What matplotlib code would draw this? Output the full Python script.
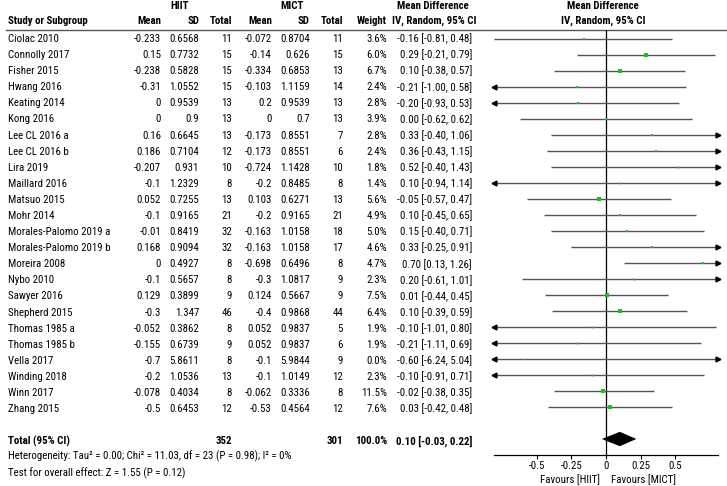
import matplotlib
matplotlib.use('Agg')
import matplotlib.pyplot as plt
import numpy as np

plt.rcParams['font.family'] = ['Roboto Condensed', 'Liberation Sans', 'DejaVu Sans']
plt.rcParams['axes.unicode_minus'] = False

studies = ['Ciolac 2010', 'Connolly 2017', 'Fisher 2015', 'Hwang 2016', 'Keating 2014',
           'Kong 2016', 'Lee CL 2016 a', 'Lee CL 2016 b', 'Lira 2019', 'Maillard 2016',
           'Matsuo 2015', 'Mohr 2014', 'Morales-Palomo 2019 a', 'Morales-Palomo 2019 b',
           'Moreira 2008', 'Nybo 2010', 'Sawyer 2016', 'Shepherd 2015', 'Thomas 1985 a',
           'Thomas 1985 b', 'Vella 2017', 'Winding 2018', 'Winn 2017', 'Zhang 2015']
hiit_mean = [-0.233, 0.15, -0.238, -0.31, 0, 0, 0.16, 0.186, -0.207, -0.1, 0.052, -0.1,
             -0.01, 0.168, 0, -0.1, 0.129, -0.3, -0.052, -0.155, -0.7, -0.2, -0.078, -0.5]
hiit_sd = [0.6568, 0.7732, 0.5828, 1.0552, 0.9539, 0.9, 0.6645, 0.7104, 0.931, 1.2329,
           0.7255, 0.9165, 0.8419, 0.9094, 0.4927, 0.5657, 0.3899, 1.347, 0.3862, 0.6739,
           5.8611, 1.0536, 0.4034, 0.6453]
hiit_n = [11, 15, 15, 15, 13, 13, 13, 12, 10, 8, 13, 21, 32, 32, 8, 8, 9, 46, 8, 9, 8, 13, 8, 12]
mict_mean = [-0.072, -0.14, -0.334, -0.103, 0.2, 0, -0.173, -0.173, -0.724, -0.2, 0.103, -0.2,
             -0.163, -0.163, -0.698, -0.3, 0.124, -0.4, 0.052, 0.052, -0.1, -0.1, -0.062, -0.53]
mict_sd = [0.8704, 0.626, 0.6853, 1.1159, 0.9539, 0.7, 0.8551, 0.8551, 1.1428, 0.8485,
           0.6271, 0.9165, 1.0158, 1.0158, 0.6496, 1.0817, 0.5667, 0.9868, 0.9837, 0.9837,
           5.9844, 1.0149, 0.3336, 0.4564]
mict_n = [11, 15, 13, 14, 13, 13, 7, 6, 10, 8, 13, 21, 18, 17, 8, 9, 9, 44, 5, 6, 9, 12, 8, 12]
weight = [3.6, 6.0, 6.7, 2.4, 2.8, 3.9, 2.8, 2.4, 1.8, 1.4, 5.6, 4.9, 5.0, 4.6, 4.7, 2.3,
          7.5, 6.4, 1.9, 1.9, 0.0, 2.3, 11.5, 7.6]
md = [-0.16, 0.29, 0.10, -0.21, -0.20, 0.00, 0.33, 0.36, 0.52, 0.10, -0.05, 0.10, 0.15, 0.33,
      0.70, 0.20, 0.01, 0.10, -0.10, -0.21, -0.60, -0.10, -0.02, 0.03]
ci_lo = [-0.81, -0.21, -0.38, -1.00, -0.93, -0.62, -0.40, -0.43, -0.40, -0.94, -0.57, -0.45,
         -0.40, -0.25, 0.13, -0.61, -0.44, -0.39, -1.01, -1.11, -6.24, -0.91, -0.38, -0.42]
ci_hi = [0.48, 0.79, 0.57, 0.58, 0.53, 0.62, 1.06, 1.15, 1.43, 1.14, 0.47, 0.65, 0.71, 0.91,
         1.26, 1.01, 0.45, 0.59, 0.80, 0.69, 5.04, 0.71, 0.35, 0.48]
total_hiit, total_mict = 352, 301
pooled = (0.10, -0.03, 0.22)
het_text = 'Heterogeneity: Tau\u00b2 = 0.00; Chi\u00b2 = 11.03, df = 23 (P = 0.98); I\u00b2 = 0%'
effect_text = 'Test for overall effect: Z = 1.55 (P = 0.12)'
ticks = [-0.5, -0.25, 0, 0.25, 0.5]
tick_labels = ['-0.5', '-0.25', '0', '0.25', '0.5']

W, H = 727, 486
fig = plt.figure(figsize=(W / 100, H / 100), dpi=100)
tab = fig.add_axes([0, 0, 1, 1])
tab.set_xlim(0, W)
tab.set_ylim(H, 0)
tab.axis('off')

fs = 7.8
y0, dy = 39, 16.09
def ry(i):
    return y0 + dy * i

# headers
tab.text(180, 6, 'HIIT', ha='center', va='center', fontsize=fs, weight='bold')
tab.text(292, 6, 'MICT', ha='center', va='center', fontsize=fs, weight='bold')
tab.text(433, 6, 'Mean Difference', ha='center', va='center', fontsize=fs, weight='bold')
tab.text(603, 6, 'Mean Difference', ha='center', va='center', fontsize=fs, weight='bold')
hy = 21
tab.text(8, hy, 'Study or Subgroup', ha='left', va='center', fontsize=fs, weight='bold')
for x, s in [(161, 'Mean'), (199, 'SD'), (232, 'Total'), (272, 'Mean'), (310, 'SD'),
             (343, 'Total'), (387, 'Weight')]:
    tab.text(x, hy, s, ha='right', va='center', fontsize=fs, weight='bold')
tab.text(434, hy, 'IV, Random, 95% CI', ha='center', va='center', fontsize=fs, weight='bold')
tab.text(603, hy, 'IV, Random, 95% CI', ha='center', va='center', fontsize=fs, weight='bold')
tab.plot([6, W], [30, 30], color='#555555', lw=1)

for i, s in enumerate(studies):
    y = ry(i)
    tab.text(8, y, s, ha='left', va='center', fontsize=fs)
    cols = [(161, '%g' % hiit_mean[i]), (199, '%g' % hiit_sd[i]), (232, str(hiit_n[i])),
            (272, '%g' % mict_mean[i]), (310, '%g' % mict_sd[i]), (343, str(mict_n[i])),
            (387, '%.1f%%' % weight[i]),
            (472, '%.2f [%.2f, %.2f]' % (md[i], ci_lo[i], ci_hi[i]))]
    for x, t in cols:
        tab.text(x, y, t, ha='right', va='center', fontsize=fs)

yt = ry(25)
tab.text(8, yt, 'Total (95% CI)', ha='left', va='center', fontsize=fs, weight='bold')
tab.text(232, yt, str(total_hiit), ha='right', va='center', fontsize=fs, weight='bold')
tab.text(343, yt, str(total_mict), ha='right', va='center', fontsize=fs, weight='bold')
tab.text(387, yt, '%.1f%%' % sum(weight), ha='right', va='center', fontsize=fs, weight='bold')
tab.text(472, yt, '%.2f [%.2f, %.2f]' % pooled, ha='right', va='center', fontsize=fs, weight='bold')
tab.text(8, 456, het_text, ha='left', va='center', fontsize=fs)
tab.text(8, 473, effect_text, ha='left', va='center', fontsize=fs)

# forest panel
xl, xr = -0.81, 0.81
px0, px1 = 494.2, 717.8
top, bot = 30, 455
fa = fig.add_axes([px0 / W, (H - bot) / H, (px1 - px0) / W, (bot - top) / H])
fa.set_xlim(xl, xr)
fa.set_ylim(26, -0.56)
fa.patch.set_alpha(0)
for sp in ['top', 'left', 'right']:
    fa.spines[sp].set_visible(False)
fa.spines['bottom'].set_linewidth(0.9)
fa.set_yticks([])
fa.set_xticks(ticks)
fa.set_xticklabels(tick_labels, fontsize=fs)
fa.tick_params(axis='x', length=3, width=0.8, pad=1.5)
fa.axvline(0, color='black', lw=0.9)

for i in range(len(studies)):
    lo = max(ci_lo[i], xl)
    hi = min(ci_hi[i], xr)
    fa.plot([lo, hi], [i, i], color='#555555', lw=1, solid_capstyle='butt')
    if ci_lo[i] < xl:
        fa.plot(xl, i, marker='<', color='black', ms=3.5, clip_on=False)
    if ci_hi[i] > xr:
        fa.plot(xr, i, marker='>', color='black', ms=3.5, clip_on=False)
    side = max(1.3 * np.sqrt(weight[i]), 1.3)
    fa.plot(md[i], i, marker='s', color='#1fbf1f', ms=side * 0.72, mew=0, zorder=3)

m, lo, hi = pooled
fa.fill([lo, m, hi, m], [25, 25 - 0.45, 25, 25 + 0.45], color='black', lw=0)

fig.text(600 / W, 1 - 480 / H, 'Favours [HIIT]', ha='right', va='center', fontsize=fs)
fig.text(611 / W, 1 - 480 / H, 'Favours [MICT]', ha='left', va='center', fontsize=fs)

fig.savefig('out.png', dpi=100)
